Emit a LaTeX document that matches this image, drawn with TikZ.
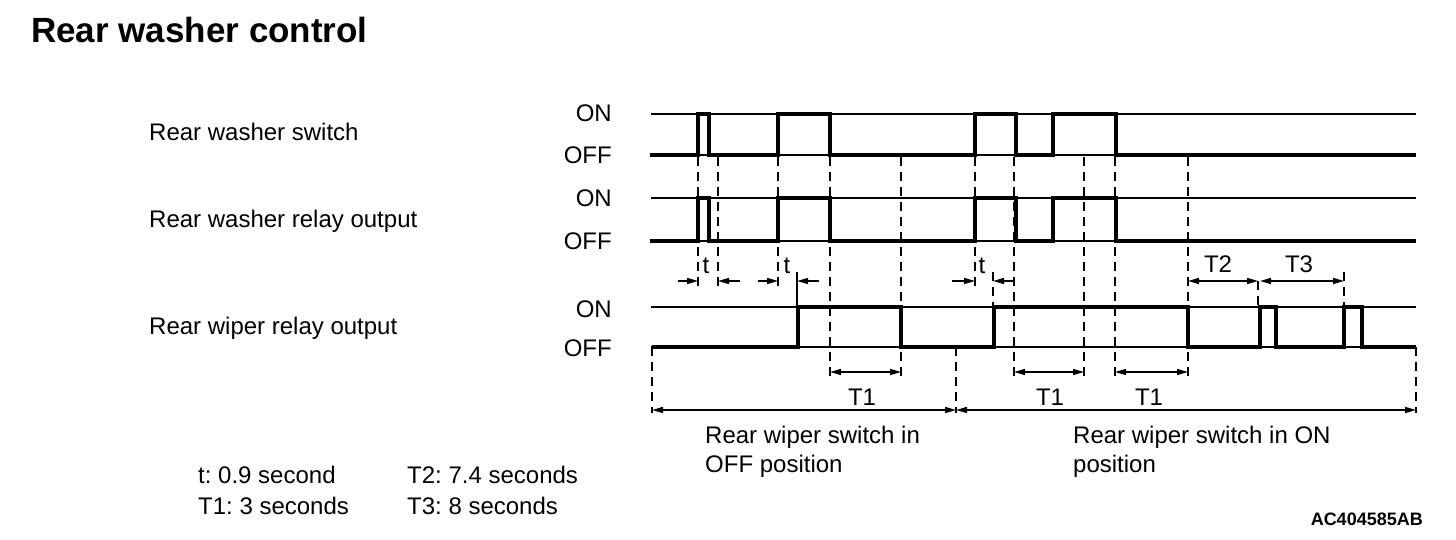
\documentclass[tikz,border=0pt]{standalone}
\usepackage{fontspec}
\setmainfont{Liberation Sans}
\usetikzlibrary{arrows.meta}
\frenchspacing
\begin{document}
\begin{tikzpicture}[x=1pt,y=-1pt,
  sig/.style={line width=4pt, line join=miter, line cap=butt},
  ref/.style={line width=1.5pt},
  guide/.style={line width=1.8pt, dash pattern=on 9pt off 6pt},
  dimo/.style={line width=1.5pt, -{Triangle[length=11pt,width=6pt]}},
  dimb/.style={line width=1.5pt, {Triangle[length=11pt,width=6pt]}-{Triangle[length=11pt,width=6pt]}},
  lbl/.style={inner sep=0pt, font=\fontsize{24}{29}\selectfont},
  lvl/.style={lbl, anchor=base east},
  txt/.style={lbl, anchor=base west},
  dlbl/.style={lbl, anchor=base},
]
\useasboundingbox (0,0) rectangle (1456,540);

% title and labels
\node[inner sep=0pt, anchor=base west, font=\fontsize{35}{40}\selectfont\bfseries] (title) at (31,43) {Rear washer control};
\node[txt] (l1) at (149,141) {Rear washer switch};
\node[txt] (l2) at (149,228) {Rear washer relay output};
\node[txt] (l3) at (149,334) {Rear wiper relay output};

\node[lvl] (on1) at (612,122) {ON};
\node[lvl] (off1) at (612,164) {OFF};
\node[lvl] (on2) at (612,207) {ON};
\node[lvl] (off2) at (612,249) {OFF};
\node[lvl] (on3) at (612,317) {ON};
\node[lvl] (off3) at (612,356) {OFF};

% reference lines
\foreach \yy in {114,155,198,241,307,347}
  \draw[ref] (651,\yy) -- (1416,\yy);

% guide (dashed) lines
\foreach \xx/\ya/\yb in {698/157/286, 718/157/286, 778/157/286, 830/157/378, 901/157/378,
  975/157/286, 993/272/307, 1014/157/378, 1084/157/378, 1115/157/378, 1188/157/378,
  1258/281/307, 1344/272/307, 652/347/413, 956/347/413, 1416/347/413}
  \draw[guide] (\xx,\ya) -- (\xx,\yb);
\draw[ref] (797,272) -- (797,307);

% signals
\draw[sig] (650,155) -- (698,155) -- (698,114) -- (709,114) -- (709,155) -- (778,155) -- (778,114)
  -- (830,114) -- (830,155) -- (975,155) -- (975,114) -- (1016,114) -- (1016,155) -- (1053,155)
  -- (1053,114) -- (1116,114) -- (1116,155) -- (1416,155);
\draw[sig] (650,241) -- (698,241) -- (698,198) -- (709,198) -- (709,241) -- (778,241) -- (778,198)
  -- (830,198) -- (830,241) -- (975,241) -- (975,198) -- (1016,198) -- (1016,241) -- (1053,241)
  -- (1053,198) -- (1116,198) -- (1116,241) -- (1416,241);
\draw[sig] (652,347) -- (798,347) -- (798,307) -- (901,307) -- (901,347) -- (994,347) -- (994,307)
  -- (1188,307) -- (1188,347) -- (1260,347) -- (1260,307) -- (1276,307) -- (1276,347) -- (1344,347)
  -- (1344,307) -- (1362,307) -- (1362,347) -- (1416,347);

% t dimension arrows
\coordinate (ta0) at (678,281); \coordinate (ta1) at (698,281);
\coordinate (ta2) at (718,281); \coordinate (ta3) at (740,281);
\coordinate (tb0) at (758,281); \coordinate (tb1) at (778,281);
\coordinate (tb2) at (797,281); \coordinate (tb3) at (819,281);
\coordinate (tc0) at (952,281); \coordinate (tc1) at (975,281);
\coordinate (tc2) at (993,281); \coordinate (tc3) at (1013,281);
\draw[dimo] (ta0) -- (ta1); \draw[dimo] (ta3) -- (ta2);
\draw[dimo] (tb0) -- (tb1); \draw[dimo] (tb3) -- (tb2);
\draw[dimo] (tc0) -- (tc1); \draw[dimo] (tc3) -- (tc2);
\node[dlbl] (t1) at (706,273) {t};
\node[dlbl] (t2) at (787,273) {t};
\node[dlbl] (t3) at (982,273) {t};

% T2, T3
\coordinate (p0) at (1188,281); \coordinate (p1) at (1258,281);
\coordinate (p2) at (1260,281); \coordinate (p3) at (1344,281);
\draw[dimb] (p0) -- (p1);
\draw[dimb] (p2) -- (p3);
\node[dlbl] (T2) at (1218,272) {T2};
\node[dlbl] (T3) at (1299,272) {T3};

% T1
\coordinate (q0) at (830,372); \coordinate (q1) at (901,372);
\coordinate (q2) at (1014,372); \coordinate (q3) at (1084,372);
\coordinate (q4) at (1115,372); \coordinate (q5) at (1188,372);
\draw[dimb] (q0) -- (q1);
\draw[dimb] (q2) -- (q3);
\draw[dimb] (q4) -- (q5);
\node[dlbl] (T1a) at (862,405) {T1};
\node[dlbl] (T1b) at (1050,405) {T1};
\node[dlbl] (T1c) at (1149,405) {T1};

% main ranges
\coordinate (r0) at (652,410); \coordinate (r1) at (956,410); \coordinate (r2) at (1416,410);
\draw[dimb] (r0) -- (r1);
\draw[dimb] (r1) -- (r2);
\node[txt] (offa) at (705,443) {Rear wiper switch in};
\node[txt] (offb) at (705,472) {OFF position};
\node[txt] (ona) at (1073,443) {Rear wiper switch in ON};
\node[txt] (onb) at (1073,472) {position};

% legend
\node[txt] (lg1) at (198,483) {t: 0.9 second};
\node[txt] (lg2) at (198,514) {T1: 3 seconds};
\node[txt] (lg3) at (407,483) {T2: 7.4 seconds};
\node[txt] (lg4) at (407,514) {T3: 8 seconds};

\node[inner sep=0pt, anchor=base east, font=\fontsize{18}{22}\selectfont\bfseries] (code) at (1423,525) {AC404585AB};
\end{tikzpicture}
\end{document}
